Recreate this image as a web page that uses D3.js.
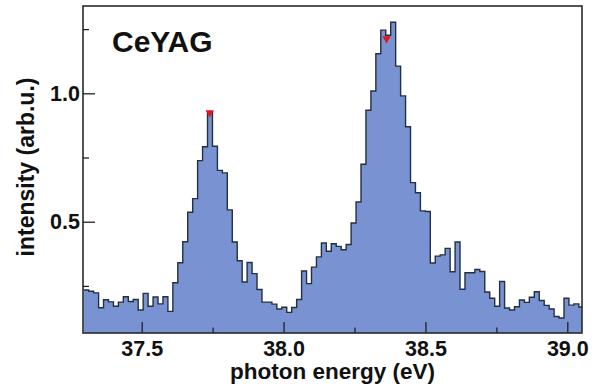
<!DOCTYPE html>
<html>
<head>
<meta charset="utf-8">
<script src="https://cdn.jsdelivr.net/npm/d3@7"></script>
<style>
  html, body { margin: 0; padding: 0; background: #fff; }
  svg { display: block; }
  text { font-family: "Liberation Sans", Arial, Helvetica, sans-serif; font-weight: bold; fill: #111; }
</style>
</head>
<body>
<svg id="chart" width="592" height="387"></svg>
<script>
// Histogram of the CeYAG spectrum: fixed-width energy bins
const histLow = 37.2957;      // eV, lower edge of the first bin
const binWidth = 0.01745;     // eV
const intensity = [
  0.234, 0.229, 0.223, 0.165, 0.196, 0.188, 0.171, 0.187, 0.208, 0.189,
  0.197, 0.156, 0.221, 0.171, 0.207, 0.180, 0.208, 0.151, 0.262, 0.340,
  0.422, 0.537, 0.590, 0.738, 0.792, 0.928, 0.794, 0.700, 0.690, 0.546,
  0.421, 0.348, 0.265, 0.341, 0.298, 0.236, 0.187, 0.187, 0.179, 0.160,
  0.167, 0.147, 0.166, 0.197, 0.308, 0.259, 0.323, 0.363, 0.417, 0.385,
  0.414, 0.404, 0.391, 0.411, 0.495, 0.577, 0.724, 0.934, 1.009, 1.154,
  1.246, 1.226, 1.277, 1.106, 0.990, 0.870, 0.652, 0.613, 0.542, 0.540,
  0.339, 0.366, 0.371, 0.396, 0.305, 0.421, 0.237, 0.301, 0.301, 0.314,
  0.306, 0.226, 0.202, 0.171, 0.267, 0.164, 0.156, 0.169, 0.195, 0.186,
  0.206, 0.227, 0.193, 0.174, 0.160, 0.131, 0.125, 0.202, 0.175, 0.180,
  0.168
];

// Peak positions marked on the spectrum
const peakEnergy = [37.740, 38.363];
const peakIntensity = [0.925, 1.213];

// Axis ranges and ticks
const xDomain = [37.2931, 39.0518];
const yDomain = [0.0666, 1.340];
const xMajorTicks = [37.5, 38.0, 38.5, 39.0];
const xMinorTicks = [37.75, 38.25, 38.75];
const yMajorTicks = [0.5, 1.0];
const yMinorTicks = [0.25, 0.75, 1.25];

const xTitle = "photon energy (eV)";
const yTitle = "intensity (arb.u.)";
const sampleLabel = "CeYAG";

// Layout
const plot = { left: 83, top: 6, right: 582, bottom: 333 };
const svg = d3.select("#chart");

const x = d3.scaleLinear().domain(xDomain).range([plot.left, plot.right]);
const y = d3.scaleLinear().domain(yDomain).range([plot.bottom, plot.top]);

svg.append("defs").append("clipPath").attr("id", "plot-clip")
  .append("rect")
  .attr("x", plot.left).attr("y", plot.top)
  .attr("width", plot.right - plot.left).attr("height", plot.bottom - plot.top);

// Step points: each bin's left edge, plus a closing point at the last right edge
const steps = intensity.map((v, i) => ({ e: histLow + i * binWidth, v }));
steps.push({ e: histLow + intensity.length * binWidth, v: intensity[intensity.length - 1] });

const g = svg.append("g").attr("clip-path", "url(#plot-clip)");

g.append("path")
  .datum(steps)
  .attr("fill", "#7993d2")
  .attr("d", d3.area()
    .curve(d3.curveStepAfter)
    .x(d => x(d.e))
    .y0(plot.bottom)
    .y1(d => y(d.v)));

g.append("path")
  .datum(steps)
  .attr("fill", "none")
  .attr("stroke", "#243040")
  .attr("stroke-width", 1.4)
  .attr("d", d3.line()
    .curve(d3.curveStepAfter)
    .x(d => x(d.e))
    .y(d => y(d.v)));

// Peak markers (downward triangles)
svg.append("g").selectAll("path")
  .data(peakEnergy.map((e, i) => ({ e, v: peakIntensity[i] })))
  .join("path")
  .attr("transform", d => `translate(${x(d.e)},${y(d.v)}) rotate(180)`)
  .attr("d", d3.symbol(d3.symbolTriangle, 30))
  .attr("fill", "#e3161c");

// Frame
svg.append("rect")
  .attr("x", plot.left).attr("y", plot.top)
  .attr("width", plot.right - plot.left).attr("height", plot.bottom - plot.top)
  .attr("fill", "none")
  .attr("stroke", "#2a2a2a")
  .attr("stroke-width", 1.6);

// X axis: major ticks with labels, minor ticks without
const xAxis = svg.append("g")
  .attr("transform", `translate(0,${plot.bottom})`)
  .call(d3.axisBottom(x).tickValues(xMajorTicks).tickSize(-11).tickPadding(7.5)
    .tickFormat(d3.format(".1f")));
xAxis.select(".domain").remove();
xAxis.selectAll("text").style("font-size", "21.5px");

const xMinor = svg.append("g")
  .attr("transform", `translate(0,${plot.bottom})`)
  .call(d3.axisBottom(x).tickValues(xMinorTicks).tickSize(-5.5).tickFormat(""));
xMinor.select(".domain").remove();

// Y axis
const yAxis = svg.append("g")
  .attr("transform", `translate(${plot.left},0)`)
  .call(d3.axisLeft(y).tickValues(yMajorTicks).tickSize(-12).tickPadding(3)
    .tickFormat(d3.format(".1f")));
yAxis.select(".domain").remove();
yAxis.selectAll("text").style("font-size", "21.5px");

const yMinor = svg.append("g")
  .attr("transform", `translate(${plot.left},0)`)
  .call(d3.axisLeft(y).tickValues(yMinorTicks).tickSize(-6).tickFormat(""));
yMinor.select(".domain").remove();

svg.selectAll(".tick line").attr("stroke", "#222").attr("stroke-width", 1.3);

// Axis titles
svg.append("text")
  .attr("x", (plot.left + plot.right) / 2)
  .attr("y", 379)
  .attr("text-anchor", "middle")
  .style("font-size", "22.5px")
  .text(xTitle);

svg.append("text")
  .attr("transform", `translate(33.5,167) rotate(-90)`)
  .attr("text-anchor", "middle")
  .style("font-size", "23px")
  .text(yTitle);

// Sample label
svg.append("text")
  .attr("x", 112)
  .attr("y", 52)
  .style("font-size", "30px")
  .text(sampleLabel);
</script>
</body>
</html>
